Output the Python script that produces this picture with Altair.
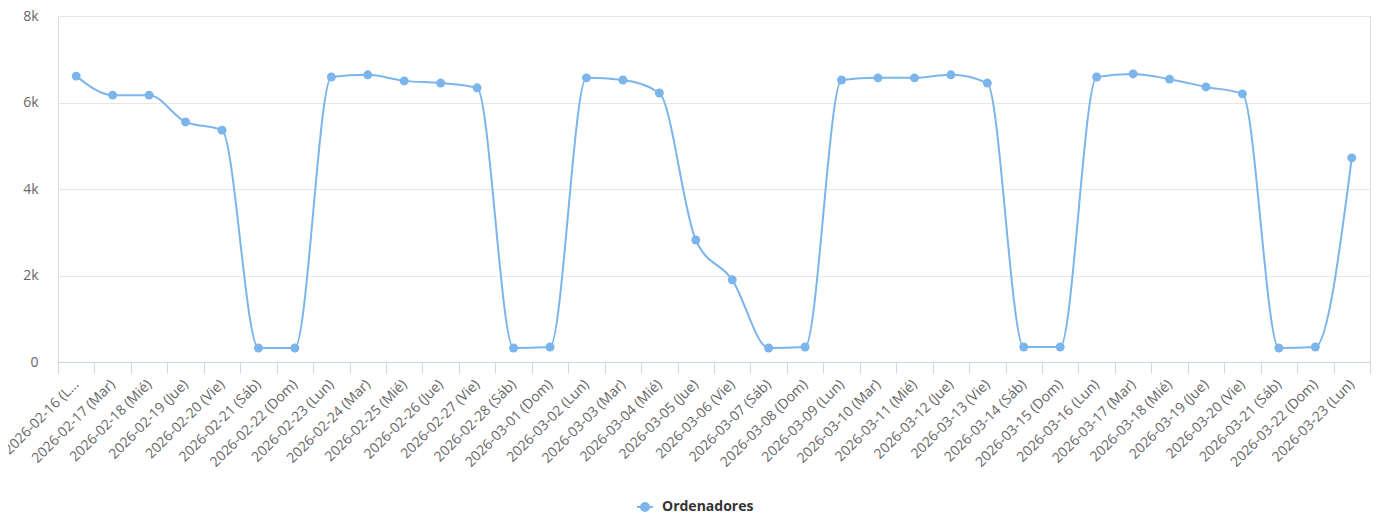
import altair as alt
import pandas as pd

dias = [
    "2026-02-16 (Lun)", "2026-02-17 (Mar)", "2026-02-18 (Mié)", "2026-02-19 (Jue)",
    "2026-02-20 (Vie)", "2026-02-21 (Sáb)", "2026-02-22 (Dom)", "2026-02-23 (Lun)",
    "2026-02-24 (Mar)", "2026-02-25 (Mié)", "2026-02-26 (Jue)", "2026-02-27 (Vie)",
    "2026-02-28 (Sáb)", "2026-03-01 (Dom)", "2026-03-02 (Lun)", "2026-03-03 (Mar)",
    "2026-03-04 (Mié)", "2026-03-05 (Jue)", "2026-03-06 (Vie)", "2026-03-07 (Sáb)",
    "2026-03-08 (Dom)", "2026-03-09 (Lun)", "2026-03-10 (Mar)", "2026-03-11 (Mié)",
    "2026-03-12 (Jue)", "2026-03-13 (Vie)", "2026-03-14 (Sáb)", "2026-03-15 (Dom)",
    "2026-03-16 (Lun)", "2026-03-17 (Mar)", "2026-03-18 (Mié)", "2026-03-19 (Jue)",
    "2026-03-20 (Vie)", "2026-03-21 (Sáb)", "2026-03-22 (Dom)", "2026-03-23 (Lun)",
]

ordenadores = [
    6610, 6170, 6170, 5550, 5360, 324, 324, 6590,
    6640, 6500, 6450, 6340, 324, 347, 6570, 6520,
    6220, 2820, 1900, 324, 347, 6520, 6570, 6570,
    6640, 6450, 347, 347, 6590, 6660, 6540, 6360,
    6200, 324, 347, 4720,
]

serie = ["Ordenadores"] * len(dias)

df = pd.DataFrame({"dia": dias, "valor": ordenadores, "serie": serie})

FONT = "Open Sans"
BLUE = "#7cb5ec"

legend_path = "M-1,0L1,0M-0.5,0A0.5,0.5,0,1,0,0.5,0A0.5,0.5,0,1,0,-0.5,0Z"

x_enc = alt.X(
    "dia:N",
    sort=dias,
    scale=alt.Scale(type="band", paddingInner=0, paddingOuter=0),
    axis=alt.Axis(
        title=None,
        labelAngle=-45,
        labelAlign="right",
        labelBaseline="middle",
        labelPadding=9,
        labelFont=FONT,
        labelFontSize=14,
        labelColor="#666666",
        labelOverlap=False,
        labelLimit=0,
        labelExpr="datum.value == '2026-02-16 (Lun)' ? '2026-02-16 (L…' : datum.label",
        domainColor="#ccd6eb",
        domainWidth=1,
        tickColor="#ccd6eb",
        tickSize=11,
        tickBand="extent",
        grid=False,
    ),
)

y_enc = alt.Y(
    "valor:Q",
    scale=alt.Scale(domain=[0, 8000], nice=False),
    axis=alt.Axis(
        title=None,
        values=[0, 2000, 4000, 6000, 8000],
        labelExpr="datum.value == 0 ? '0' : format(datum.value / 1000, 'd') + 'k'",
        domain=False,
        ticks=False,
        labelFont=FONT,
        labelFontSize=14,
        labelColor="#666666",
        labelPadding=20,
        gridColor="#e6e6e6",
        gridWidth=1,
    ),
)

color_enc = alt.Color(
    "serie:N",
    scale=alt.Scale(range=[BLUE]),
    legend=alt.Legend(
        title=None,
        orient="none",
        legendX=578,
        legendY=482,
        symbolType=legend_path,
        symbolSize=256,
        symbolStrokeWidth=2,
        symbolFillColor=BLUE,
        symbolStrokeColor=BLUE,
        symbolOpacity=1,
        labelFont=FONT,
        labelFontSize=14,
        labelFontWeight="bold",
        labelColor="#333333",
        labelOffset=8,
    ),
)

base = alt.Chart(df).encode(x=x_enc, y=y_enc, color=color_enc)

line = base.mark_line(interpolate="monotone", strokeWidth=2)
points = base.mark_point(filled=True, size=80, opacity=1, shape="circle")

chart = (
    alt.layer(line, points)
    .properties(
        width=1312,
        height=346,
        autosize=alt.AutoSizeParams(type="none"),
        padding={"left": 50, "top": 8, "right": 4, "bottom": 156},
    )
    .configure_view(stroke=None)
    .configure(background="white")
)

chart.save("out.html", embed_options={"renderer": "svg", "actions": False})
